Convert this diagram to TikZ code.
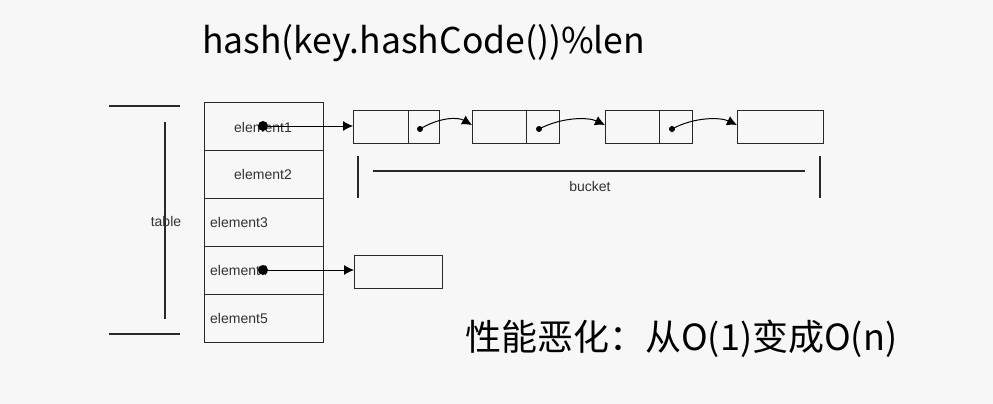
\documentclass[tikz,border=0pt]{standalone}
\usepackage{fontspec}
\setmainfont{Liberation Sans}
\newfontfamily\cjk{Noto Sans CJK SC}
\usetikzlibrary{arrows.meta}
\definecolor{bgc}{RGB}{247,247,247}
\definecolor{ink}{RGB}{40,40,40}
\definecolor{txt}{RGB}{50,50,50}
\tikzset{
  cell/.style={draw=ink, line width=1.1pt, inner sep=0pt, anchor=north west},
  lbl/.style={text=txt, font=\fontsize{14}{16}\selectfont, inner sep=0pt},
  bigdot/.style={circle, fill=black, inner sep=0pt, minimum size=10pt},
  smalldot/.style={circle, fill=black, inner sep=0pt, minimum size=6pt},
  ptr/.style={draw=black, line width=1pt, -{Latex[length=10pt,width=10pt]}},
  rule/.style={draw=ink, line width=1.2pt},
}
\begin{document}
\begin{tikzpicture}[x=1pt,y=-1pt]
\fill[bgc] (0,0) rectangle (993,404);
\useasboundingbox (0,0) rectangle (993,404);
% title
\node[anchor=base west, inner sep=0pt, font=\cjk\fontsize{35.5}{40}\selectfont, text=black] (title) at (202,53) {hash(key.hashCode())\%len};
% table rows
\foreach \i/\y in {1/102,2/150,3/198,4/246,5/294}{
  \node[cell, minimum width=119pt, minimum height=48pt] (r\i) at (204,\y) {};
}
\node[lbl] (e1) at (263,127) {element1};
\node[lbl] (e2) at (263,174) {element2};
\node[lbl, anchor=west] (e3) at (210,222) {element3};
\node[lbl, anchor=west] (e4) at (210,270) {element4};
\node[lbl, anchor=west] (e5) at (210,318) {element5};
% table annotation
\coordinate (tt1) at (109,106); \coordinate (tt2) at (180,106);
\coordinate (tb1) at (109,334); \coordinate (tb2) at (180,334);
\coordinate (tv1) at (165,122); \coordinate (tv2) at (165,319);
\draw[rule] (tt1) -- (tt2);
\draw[rule] (tb1) -- (tb2);
\draw[rule] (tv1) -- (tv2);
\node[lbl] (tl) at (166,221) {table};
% bucket boxes
\node[cell, minimum width=55pt, minimum height=33pt] (b1d) at (353,110) {};
\node[cell, minimum width=31pt, minimum height=33pt] (b1p) at (408,110) {};
\node[cell, minimum width=54pt, minimum height=33pt] (b2d) at (472,110) {};
\node[cell, minimum width=33pt, minimum height=33pt] (b2p) at (526,110) {};
\node[cell, minimum width=54pt, minimum height=33pt] (b3d) at (605,110) {};
\node[cell, minimum width=33pt, minimum height=33pt] (b3p) at (659,110) {};
\node[cell, minimum width=86pt, minimum height=33pt] (b4) at (737,110) {};
\node[cell, minimum width=88pt, minimum height=33pt] (c1) at (354,255) {};
% dots
\node[bigdot] (d1) at (263,126) {};
\node[bigdot] (d4) at (263,270) {};
\node[smalldot] (p1) at (420,129) {};
\node[smalldot] (p2) at (539,129) {};
\node[smalldot] (p3) at (672,129) {};
% arrows
\draw[ptr] (d1.center) -- (b1d.west |- d1.center);
\draw[ptr] (d4.center) -- (c1.west |- d4.center);
\draw[ptr] (p1.center) .. controls (440,117) and (458,117) .. (b2d.west |- 0,125);
\draw[ptr] (p2.center) .. controls (562,117) and (588,117) .. (b3d.west |- 0,125);
\draw[ptr] (p3.center) .. controls (694,117) and (720,117) .. (b4.west |- 0,125);
% bucket bracket
\coordinate (bl1) at (358,156); \coordinate (bl2) at (358,198);
\coordinate (br1) at (820,156); \coordinate (br2) at (820,198);
\coordinate (bh1) at (373,171); \coordinate (bh2) at (805,171);
\draw[rule] (bl1) -- (bl2);
\draw[rule] (br1) -- (br2);
\draw[rule] (bh1) -- (bh2);
\node[lbl] (bk) at (590,186) {bucket};
% note
\node[anchor=base west, inner sep=0pt, font=\cjk\fontsize{36}{40}\selectfont, text=black] (note) at (465,350) {性能恶化：从O(1)变成O(n)};
\end{tikzpicture}
\end{document}
